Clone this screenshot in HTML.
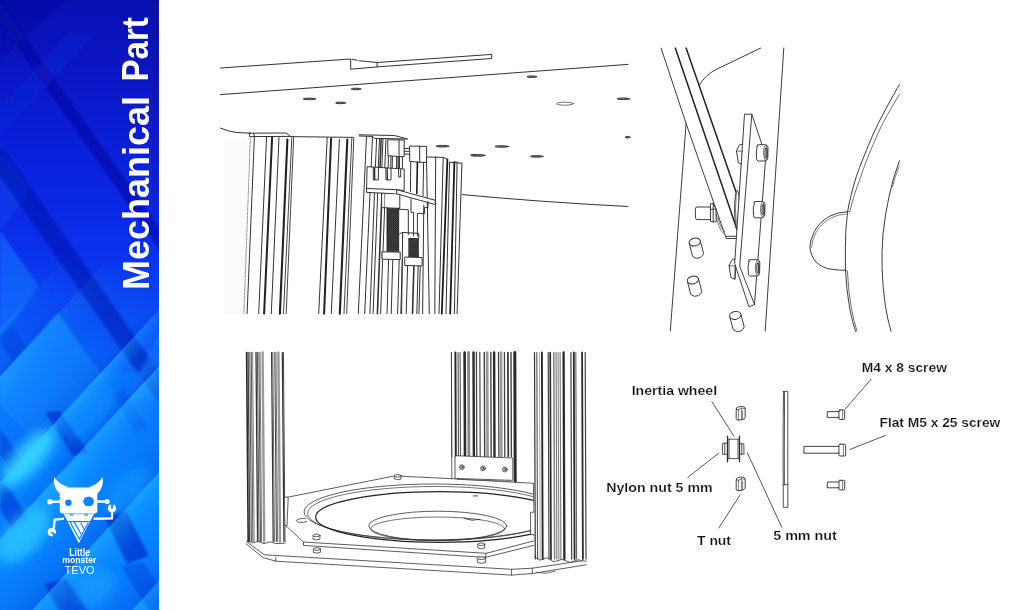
<!DOCTYPE html>
<html><head><meta charset="utf-8">
<style>
html,body{margin:0;padding:0;background:#fff;}
body{width:1024px;height:610px;overflow:hidden;position:relative;font-family:"Liberation Sans",sans-serif;}
svg{position:absolute;left:0;top:0;}
text{font-family:"Liberation Sans",sans-serif;}
</style></head><body>
<svg width="1024" height="610" viewBox="0 0 1024 610">
<defs>
<linearGradient id="bg" x1="0" y1="0" x2="0" y2="1">
<stop offset="0" stop-color="#0810b2"/>
<stop offset="0.12" stop-color="#0a16c4"/>
<stop offset="0.25" stop-color="#0a20da"/>
<stop offset="0.41" stop-color="#0a30ec"/>
<stop offset="0.54" stop-color="#0a50f6"/>
<stop offset="0.65" stop-color="#0870fc"/>
<stop offset="0.8" stop-color="#0684ff"/>
<stop offset="1" stop-color="#087cfc"/>
</linearGradient>
<clipPath id="sb"><rect x="0" y="0" width="159" height="610"/></clipPath>
<filter id="bl" x="-10%" y="-10%" width="120%" height="120%"><feGaussianBlur stdDeviation="1.2"/></filter>
<filter id="bl2" x="-30%" y="-30%" width="160%" height="160%"><feGaussianBlur stdDeviation="6"/></filter>
<pattern id="hat" width="2.2" height="2.2" patternUnits="userSpaceOnUse"><rect width="2.2" height="2.2" fill="#1c1c1c"/><rect x="0.2" y="0.3" width="0.9" height="0.8" fill="#8a8a8a"/><rect x="1.3" y="1.4" width="0.8" height="0.7" fill="#777"/></pattern>
<linearGradient id="edge" x1="0" y1="0" x2="0" y2="1"><stop offset="0" stop-color="#1c1090" stop-opacity="0.45"/><stop offset="0.3" stop-color="#1c1090" stop-opacity="0.2"/><stop offset="0.42" stop-color="#1c1090" stop-opacity="0"/></linearGradient>
<!--GDEFS--><linearGradient id="pg0" gradientUnits="userSpaceOnUse" x1="27.0" y1="300" x2="50.6" y2="321.7"><stop offset="0" stop-color="#2cc4ff" stop-opacity="0.3"/><stop offset="0.45" stop-color="#1090ff" stop-opacity="0.15"/><stop offset="1" stop-color="#0438d8" stop-opacity="0.30"/></linearGradient><linearGradient id="pg1" gradientUnits="userSpaceOnUse" x1="70.5" y1="300" x2="123.3" y2="348.6"><stop offset="0" stop-color="#2cc4ff" stop-opacity="0.4"/><stop offset="0.45" stop-color="#1090ff" stop-opacity="0.15"/><stop offset="1" stop-color="#0438d8" stop-opacity="0.30"/></linearGradient><linearGradient id="pg2" gradientUnits="userSpaceOnUse" x1="168.0" y1="300" x2="196.1" y2="325.8"><stop offset="0" stop-color="#2cc4ff" stop-opacity="0.55"/><stop offset="0.45" stop-color="#1090ff" stop-opacity="0.15"/><stop offset="1" stop-color="#0438d8" stop-opacity="0.30"/></linearGradient><linearGradient id="pg3" gradientUnits="userSpaceOnUse" x1="219.8" y1="300" x2="272.8" y2="348.8"><stop offset="0" stop-color="#2cc4ff" stop-opacity="0.5"/><stop offset="0.45" stop-color="#1090ff" stop-opacity="0.15"/><stop offset="1" stop-color="#0438d8" stop-opacity="0.30"/></linearGradient><linearGradient id="pg4" gradientUnits="userSpaceOnUse" x1="317.7" y1="300" x2="371.8" y2="349.8"><stop offset="0" stop-color="#2cc4ff" stop-opacity="0.45"/><stop offset="0.45" stop-color="#1090ff" stop-opacity="0.15"/><stop offset="1" stop-color="#0438d8" stop-opacity="0.30"/></linearGradient><linearGradient id="pg5" gradientUnits="userSpaceOnUse" x1="417.6" y1="300" x2="473.1" y2="351.0"><stop offset="0" stop-color="#2cc4ff" stop-opacity="0.4"/><stop offset="0.45" stop-color="#1090ff" stop-opacity="0.15"/><stop offset="1" stop-color="#0438d8" stop-opacity="0.30"/></linearGradient><linearGradient id="fadeg" x1="0" y1="0" x2="0" y2="1"><stop offset="0.42" stop-color="#000"/><stop offset="0.62" stop-color="#fff"/></linearGradient><mask id="fadem" maskUnits="userSpaceOnUse" x="0" y="0" width="160" height="610"><rect x="0" y="0" width="160" height="610" fill="url(#fadeg)"/></mask><!--/GDEFS--></defs>
<!-- SIDEBAR -->
<g id="sidebar" clip-path="url(#sb)">
<rect x="0" y="0" width="159" height="610" fill="url(#bg)"/>
<!--BANDS-->
<g filter="url(#bl)">
<polygon points="0.0,0.0 66.0,0.0 0.0,60.0" fill="#060c98" fill-opacity="0.35"/>
<polygon points="-22.3,-10.0 -7.3,-10.0 181.7,260.0 166.7,260.0" fill="#060c9c" fill-opacity="0.5"/>
<polygon points="68.0,33.0 96.0,33.0 -2.4,140.0 -30.4,140.0" fill="#1830e8" fill-opacity="0.22"/>
<polygon points="0.0,231.0 39.0,286.0 0.0,338.0" fill="#1278ff" fill-opacity="0.55"/>
<polygon points="0.0,150.0 30.0,190.0 0.0,231.0" fill="#1050f0" fill-opacity="0.35"/>
<polygon points="-18.5,150.0 4.5,150.0 179.5,400.0 156.5,400.0" fill="#0418b0" fill-opacity="0.62"/>
<polygon points="160.0,330.0 160.0,400.0 121.0,400.0 140.0,372.0" fill="#1080ff" fill-opacity="0.35"/>
<polygon points="57.7,312.3 101.0,374.0 36.7,444.8 0.0,405.0 0.0,376.0" fill="#0e84ff" fill-opacity="0.7"/>
<polygon points="10.5,324.0 26.0,346.0 13.0,362.0 0.0,342.0 0.0,335.0" fill="#0640dc" fill-opacity="0.75"/>
<polygon points="101.0,374.0 140.0,372.0 160.0,352.0 160.0,362.0 63.0,467.0 3.0,482.0 0.0,482.0" fill="#0c80ff" fill-opacity="0.45"/>
<polygon points="45.0,412.0 60.0,411.0 88.0,452.0 72.0,456.0" fill="#0434d4" fill-opacity="0.82"/>
<polygon points="0.0,430.0 5.0,435.0 24.0,464.0 12.0,472.0 0.0,454.0" fill="#0440d8" fill-opacity="0.75"/>
<polygon points="111.0,392.0 124.0,390.0 148.0,428.0 135.0,432.0" fill="#0448dc" fill-opacity="0.35"/>
<polygon points="0.0,482.0 9.0,488.0 29.0,520.0 13.0,530.0 0.0,510.0" fill="#0438d8" fill-opacity="0.8"/>
<polygon points="104.0,516.0 126.0,511.0 149.0,556.0 127.0,564.0" fill="#0430d0" fill-opacity="0.85"/>
<polygon points="44.0,584.0 66.0,579.0 89.0,612.0 60.0,612.0" fill="#0434d4" fill-opacity="0.8"/>
<polygon points="121.0,566.0 143.0,562.0 162.0,590.0 162.0,612.0 150.0,612.0" fill="#0444dc" fill-opacity="0.55"/>
</g>
<g mask="url(#fadem)">
<polygon points="211.0,100.0 254.5,100.0 -279.1,680.0 -322.6,680.0" fill="url(#pg0)"/>
<polygon points="254.5,100.0 352.0,100.0 -181.6,680.0 -279.1,680.0" fill="url(#pg1)"/>
<polygon points="352.0,100.0 403.8,100.0 -129.8,680.0 -181.6,680.0" fill="url(#pg2)"/>
<polygon points="403.8,100.0 501.7,100.0 -31.9,680.0 -129.8,680.0" fill="url(#pg3)"/>
<polygon points="501.7,100.0 601.6,100.0 68.0,680.0 -31.9,680.0" fill="url(#pg4)"/>
<polygon points="601.6,100.0 704.0,100.0 170.4,680.0 68.0,680.0" fill="url(#pg5)"/>
</g>
<g filter="url(#bl2)">
<ellipse cx="28.0" cy="458.0" rx="36.0" ry="14.0" transform="rotate(-47 28.0 458.0)" fill="#38d8ff" fill-opacity="0.85"/>
<ellipse cx="24.0" cy="535.0" rx="34.0" ry="18.0" transform="rotate(-47 24.0 535.0)" fill="#2cc8ff" fill-opacity="0.75"/>
<ellipse cx="88.0" cy="412.0" rx="34.0" ry="16.0" transform="rotate(-47 88.0 412.0)" fill="#1494ff" fill-opacity="0.45"/>
<ellipse cx="128.0" cy="492.0" rx="30.0" ry="15.0" transform="rotate(-47 128.0 492.0)" fill="#16a0ff" fill-opacity="0.5"/>
<ellipse cx="96.0" cy="588.0" rx="22.0" ry="16.0" transform="rotate(-47 96.0 588.0)" fill="#1ea8ff" fill-opacity="0.5"/>
<ellipse cx="60.0" cy="488.0" rx="22.0" ry="12.0" transform="rotate(-47 60.0 488.0)" fill="#1ca4ff" fill-opacity="0.4"/>
</g>
<!--/BANDS-->
<rect x="152" y="0" width="7" height="610" fill="url(#edge)"/>
</g>
<g font-size="37.2" font-weight="bold" fill="#fff"><text transform="translate(148.6,290) rotate(-90)" textLength="194" lengthAdjust="spacingAndGlyphs">Mechanical</text><text transform="translate(148.4,81.4) rotate(-90)" textLength="64.2" lengthAdjust="spacingAndGlyphs">Part</text></g>
<!--LOGO-->
<g id="logo" fill="#fff" stroke="none">
<!-- horns -->
<path d="M60 494Q52.4 487 54.2 476.9Q57.6 483.4 68.4 487.2Q62 488.4 60 494Z"/>
<path d="M97.2 494Q104.4 487 102.5 476.9Q99.2 483.4 89 487.2Q95.4 488.4 97.2 494Z"/>
<!-- head -->
<path d="M66 487.4L91 487.4Q97.3 487.4 97.3 493.8L97.3 510.4Q97.3 513.4 94.3 513.4L62.8 513.4Q59.8 513.4 59.8 510.4L59.8 493.8Q59.8 487.4 66 487.4Z"/>
<circle cx="68.4" cy="502.7" r="3.2" fill="#0a86fb"/>
<ellipse cx="88.6" cy="501.5" rx="5.4" ry="4.8" fill="#0a86fb"/>
<!-- antennas -->
<rect x="51" y="500.5" width="9.5" height="2.5"/><circle cx="49.9" cy="501.8" r="2.7"/>
<rect x="97" y="500.3" width="8.5" height="2.5"/><circle cx="107.1" cy="501.5" r="2.5"/>
<!-- body triangle -->
<path d="M63.4 513.2L94.2 513.2L78.8 543.3Z"/>
<path d="M65 513.4L92.6 513.4L92.6 514.3L65 514.3Z" fill="#0a86fb" fill-opacity="0.55"/>
<path d="M69.6 514.2h3.7v1.4h-3.7zM84.3 514.2h3.7v1.4h-3.7z" fill="#0a86fb"/>
<g fill="none" stroke="#0a86fb" stroke-width="1.15">
<path d="M67.4 521.6L90.4 521.6M70.2 522.4L79.4 539L84.4 529.8M74.4 522.4L81.2 534.2M80.6 523L84.4 529.6L88.2 523"/>
</g>
<!-- arms -->
<path d="M64 517.4L53.6 518.8L52.6 528.6L54.9 528.8L55.7 520.8L64 519.8Z"/>
<circle cx="51.8" cy="532.2" r="4.1"/><path d="M51.8 532.2L57 534.6L54 538Z" fill="#0a86fb"/><circle cx="52.4" cy="532.8" r="1.1" fill="#0a86fb"/>
<path d="M93.6 517.6L110.8 517.2L111 512.2L113.3 512.2L113.1 519.4L93.6 519.9Z"/>
<circle cx="112" cy="508.3" r="4.1"/><path d="M112 508.3L110.2 503L114 503.2Z" fill="#0a86fb"/><circle cx="112" cy="507.4" r="1.1" fill="#0a86fb"/>
<text x="79.6" y="555.6" font-size="10.6" font-weight="bold" text-anchor="middle" textLength="20.8" lengthAdjust="spacingAndGlyphs">Little</text>
<text x="79.3" y="563.4" font-size="9.6" font-weight="bold" text-anchor="middle" textLength="34" lengthAdjust="spacingAndGlyphs">monster</text>
<text x="79.6" y="574.2" font-size="11.6" text-anchor="middle" textLength="30" lengthAdjust="spacingAndGlyphs">TEVO</text>
</g>

<!--/LOGO-->
<rect id="wash" x="224" y="140" width="23" height="174" fill="#fbfbfb"/>
<!--DRAW1-->
<g id="d1" fill="none" stroke="#333" stroke-width="1.0" stroke-linecap="round" stroke-linejoin="round">
<path d="M220.5 68L350.7 59L350.7 69.2L377.1 66.9L491.7 58.5L491.7 54.4L377.1 62.5L377.1 66.9M359 60.7L377.1 62.5M352 59.3L357.2 60.3"/>
<path d="M220.5 94.6L628 64.4"/>
<ellipse cx="309.4" cy="98.9" rx="6.2" ry="0.8" stroke-width="0.9" fill="#888" stroke="#2a2a2a"/>
<ellipse cx="340.6" cy="102.9" rx="4.9" ry="0.8" stroke-width="0.9" fill="#888" stroke="#2a2a2a"/>
<ellipse cx="356.1" cy="89.0" rx="4.9" ry="0.8" stroke-width="0.9" fill="#888" stroke="#2a2a2a"/>
<ellipse cx="531.9" cy="76.7" rx="4.9" ry="0.8" stroke-width="0.9" fill="#888" stroke="#2a2a2a"/>
<ellipse cx="623.5" cy="98.8" rx="6.5" ry="0.8" stroke-width="0.9" fill="#888" stroke="#2a2a2a"/>
<ellipse cx="627.6" cy="137.2" rx="2.4" ry="0.8" stroke-width="0.9" fill="#888" stroke="#2a2a2a"/>
<ellipse cx="442.5" cy="146.2" rx="6.5" ry="0.8" stroke-width="0.9" fill="#888" stroke="#2a2a2a"/>
<ellipse cx="479.0" cy="155.4" rx="6.2" ry="0.8" stroke-width="0.9" fill="#888" stroke="#2a2a2a"/>
<ellipse cx="501.9" cy="146.5" rx="6.9" ry="0.8" stroke-width="0.9" fill="#888" stroke="#2a2a2a"/>
<ellipse cx="536.8" cy="156.4" rx="6.4" ry="0.8" stroke-width="0.9" fill="#888" stroke="#2a2a2a"/>
<ellipse cx="473.3" cy="155.2" rx="2.7" ry="0.8" stroke-width="0.9" fill="#888" stroke="#2a2a2a"/>
<ellipse cx="565" cy="103.7" rx="8.4" ry="1.5" stroke-width="0.7"/>
<path d="M220.5 128.1Q228 131.4 236 132.4L250.4 133.2"/>
<path d="M249.4 133.2L285.6 133Q289 134 289.9 136.2M249.4 133.2L249.4 136.6L289.8 136.4M253 133.3L255 136.4"/>
<path d="M289.8 136.6L353 137.4"/>
<path d="M462.4 194.6Q540 202 628 206.5"/>
<path d="M250.4 136.6L243.9 313.6" stroke-width="1.0" stroke="#999" stroke-dasharray="3 1.2"/>
<path d="M254.4 136.6L247.1 313.6" stroke-width="1.0" stroke="#333" />
<path d="M266.6 136.6L258.7 313.6" stroke-width="1.0" stroke="#333" />
<path d="M272.1 137.6L264.1 313.6" stroke-width="2.0" stroke="#222" />
<path d="M279.0 137.6L271.3 313.6" stroke-width="1.0" stroke="#333" />
<path d="M287.4 139.5L279.9 313.6" stroke-width="2.1" stroke="#222" />
<path d="M291.8 137.6L283.5 313.6" stroke-width="1.0" stroke="#444" />
<path d="M293.7 136.6L286.2 313.6" stroke-width="1.0" stroke="#444" />
<path d="M327.2 137.6L318.7 313.6" stroke-width="1.0" stroke="#333" />
<path d="M331.1 138.5L324.1 313.6" stroke-width="2.0" stroke="#222" />
<path d="M339.4 139.5L331.3 313.6" stroke-width="1.0" stroke="#333" />
<path d="M347.3 139.5L339.8 313.6" stroke-width="2.1" stroke="#222" />
<path d="M351.8 138.5L344.0 313.6" stroke-width="1.0" stroke="#444" />
<path d="M353.8 137.6L346.7 313.6" stroke-width="1.0" stroke="#444" />

<path d="M366.5 136.4L358.3 313.6" stroke-width="1.0" stroke="#333" />
<path d="M372.5 136.5L364.7 313.6" stroke-width="1.0" stroke="#333" />
<path d="M374.5 193.0L369.9 313.6" stroke-width="1.0" stroke="#333" />
<path d="M377.7 193.0L373.1 313.6" stroke-width="1.0" stroke="#333" />
<path d="M382.0 193.0L377.4 313.6" stroke-width="1.6" stroke="#333" />
<path d="M385.2 193.0L380.6 313.6" stroke-width="1.0" stroke="#333" />
<path d="M376.6 138.6L375.4 168.0" stroke-width="1.0" stroke="#333" />
<path d="M379.5 138.6L378.3 168.0" stroke-width="1.0" stroke="#333" />
<path d="M381.2 138.6L380.0 168.0" stroke-width="1.5" stroke="#333" />
<path d="M383.0 138.6L381.8 168.0" stroke-width="1.0" stroke="#333" />
<path d="M386.0 138.6L384.8 168.0" stroke-width="1.0" stroke="#333" />
<path d="M426.5 157.4L429.3 313.6" stroke-width="1.0" stroke="#333" />
<path d="M435.7 157.0L434.8 313.6" stroke-width="1.0" stroke="#333" />
<path d="M443.2 157.6L439.0 313.6" stroke-width="1.0" stroke="#333" />
<path d="M447.4 159.4L441.8 313.6" stroke-width="1.8" stroke="#1a1a1a" />
<path d="M449.6 162.4L446.0 313.6" stroke-width="1.0" stroke="#333" />
<path d="M454.4 161.8L450.2 313.6" stroke-width="1.8" stroke="#1a1a1a" />
<path d="M457.1 161.8L454.4 313.6" stroke-width="1.0" stroke="#333" />
<path d="M461.9 163.4L457.1 313.6" stroke-width="1.0" stroke="#333" />
<path d="M426.6 157L443.2 157.4L447.4 159.4M449.6 162.2L461.9 163.2"/>
<path d="M388.6 259.3L387.0 313.6" stroke-width="1.0" stroke="#333" />
<path d="M392.8 259.3L391.2 313.6" stroke-width="1.0" stroke="#333" />
<path d="M399.2 259.3L397.6 313.6" stroke-width="1.0" stroke="#333" />
<path d="M402.4 259.3L400.8 313.6" stroke-width="1.0" stroke="#333" />
<path d="M407.6 265.7L406.2 313.6" stroke-width="1.0" stroke="#333" />
<path d="M413.9 265.7L412.5 313.6" stroke-width="1.6" stroke="#333" />
<path d="M418.2 265.7L416.8 313.6" stroke-width="1.0" stroke="#333" />
<path d="M420.3 265.7L418.9 313.6" stroke-width="1.0" stroke="#333" />
<path d="M402.6 235.0L401.6 313.6" stroke-width="1.0" stroke="#333" />
<path d="M423.8 205.0L422.6 313.6" stroke-width="1.0" stroke="#333" />
<path d="M359.1 134.8L394.4 135.5L407.6 139L388 138.6L374.6 138.5L372.8 136.4L359.1 136" fill="#fff"/>
<path d="M388.4 156.4L388.2 167.4M391 156.4L390.8 167.6M392.4 156.6L392.2 168M396.6 156.8L396.6 168.4M398 157L398 168.4M402.4 157L402.4 169" />
<path d="M399.2 157L399.2 169" stroke-width="1.4" stroke="#222"/>
<path d="M388.1 139.8L404.2 140L404.2 156.6L399 156.6L388.3 155.6Z" fill="#fff"/><path d="M399 139.9L399 156.6"/>
<path d="M404.2 148.4L410 148.6M404.2 151.2L410 151.4M404.2 154L410 154.2"/>
<path d="M410 146.1L426.6 146.4L426.6 162.3L419.7 162.3L410.1 161.4Z" fill="#fff"/><path d="M419.7 146.2L419.7 162.3"/>
<path d="M417.4 162.3L416.8 193.6" stroke-width="1.6" stroke="#1a1a1a"/><path d="M410.8 161.6L410.4 191.6M423.6 162.4L423 196"/>
<path d="M367.5 166.7L404.2 169L404.2 190.6L396.7 189.7L396.7 193.8L366.9 192.4Z" fill="#fff"/>
<path d="M366.9 188.5L396.7 189.7L396.7 193.8M396.7 189.7L435.3 200.3L435.3 204.6L396.7 193.8" fill="#fff"/>
<path d="M373.2 167.4L373.4 179.9L378.4 179.9L378.4 167.6M385.8 168L386 179.9L391 179.9L391 168.4M398.5 169L398.8 177L400.7 177L400.7 169.2"/>
<path d="M374.6 168L374.8 179.6M387.2 168.4L387.4 179.6" stroke-width="1.2" stroke="#222"/>
<path d="M381.6 194.2L381.6 207.6L399.8 208.4L399.8 195.6" fill="#fff"/><path d="M384.6 194.6L384.6 207.7" stroke-width="0.6"/>
<rect x="387" y="208.1" width="11.7" height="43.7" fill="url(#hat)" stroke="none"/>
<path d="M387 208.1L387 251.8M398.7 208.1L398.7 251.8" stroke-width="0.8" stroke="#111"/>
<path d="M382.3 251.8L400.2 252.2L400.2 259.6L382.3 259.2Z" fill="#fff"/>
<path d="M398.7 209.2L408.3 209.8L408.3 234.6M398.7 234.4L402.6 232.4L418.8 233.4L418.8 238M402.6 232.4L402.6 237.6" />
<rect x="408.3" y="238" width="10.6" height="19.2" fill="url(#hat)" stroke="none"/>
<path d="M405.1 257.1L422.1 257.5L422.1 265.9L405.1 265.5Z" fill="#fff"/>
<path d="M411 199L411 212.4L413.6 212.4L413.6 236M417.4 236L417.4 213.4L424.6 213.4L424.6 207.4L428 207.6L428 201.6"/>
</g>
<!--/DRAW1-->
<!--DRAW2-->
<g id="d2" fill="none" stroke="#333" stroke-width="0.95" stroke-linecap="round" stroke-linejoin="round">
<!-- column edges -->
<path d="M783.8 48L765.2 331M686.1 123.6L670.3 331"/>
<!-- thin line parallel to rod -->
<path d="M661.1 48.1L686.1 123.6L726.3 238.5L736.8 238.5M725.6 236.3L737 236.3"/>
<!-- curve top -->
<path d="M760.6 48.1L716 69.5Q704 76 699.2 85.5"/>
<!-- rod -->
<path d="M675.3 48.1L737 229.4M686.1 48.1L736 192" stroke-width="1.5" stroke="#222"/>
<!-- washer -->
<ellipse cx="737.2" cy="209.8" rx="2.6" ry="19.4" fill="#fff"/>
<path d="M736.4 192Q734.4 210 736.6 228" stroke-width="0.6"/>
<!-- left bolt + nut -->
<path d="M710.8 207L697 207Q695.3 207.2 695.3 209L695.5 217.8Q695.6 219.5 697.2 219.6L710.8 219.6" fill="#fff"/>
<path d="M710.8 203.8L713.2 203.5L716 209L716.2 221.6L713 222L710.9 221.4ZM713.2 203.5L713.2 222M710.9 209.4L716 209" fill="#fff"/>
<path d="M716.2 214Q717.5 228 723.5 233.5M718 217Q719 226 724.6 231.6" stroke-width="0.6"/>
<!-- nuts on plate left -->
<g id="pnut"><path d="M743.4 143.9L739.7 144.8L736.4 150.5L738.4 162.8L742.1 164.4Z" fill="#fff"/><path d="M736.8 150.9L743 151.3M742.4 151.3L742.1 164.4" stroke-width="0.7"/></g>
<use href="#pnut" transform="translate(-7.4,114.8)"/>
<!-- plate -->
<path d="M744.9 114.2L751.8 114.2L765.8 156L754.5 304.5L749 306.9L734.8 263.8Z" fill="#fff"/>
<path d="M751.8 114.2L739.7 266.3L754.5 304.5"/>
<!-- bolts on plate (socket heads) -->
<g id="bolt">
<path d="M757.2 146.2Q756.2 145.2 757.8 144.8L765.4 144.6Q767.6 145 768 147.2L767.8 158.2Q767.2 160.6 765.4 160.9L758.4 161.1Q756.4 160.6 756.6 158.8Q755.6 152 757.2 146.2Z" fill="#fff"/>
<ellipse cx="765.5" cy="152.8" rx="1.9" ry="7.4" stroke-width="0.7"/>
<ellipse cx="765.9" cy="152.9" rx="0.9" ry="4.8" stroke-width="1.1" stroke="#3a3a3a"/>
</g>
<use href="#bolt" transform="translate(-3,56.8) scale(1.0)"/>
<use href="#bolt" transform="translate(-8.2,115)"/>
<!-- cylinders -->
<g id="cyl"><path d="M689.2 243.4L692.6 256.4Q696 259.6 700.4 257.6Q703.2 255.8 703.6 253.4L700.2 240.6" fill="#fff"/><ellipse cx="694.7" cy="242" rx="5.7" ry="3.9" transform="rotate(-12 694.7 242)" fill="#fff"/></g>
<use href="#cyl" transform="translate(-1.8,38)"/>
<use href="#cyl" transform="translate(40.6,73.4)"/>
<!-- right curved body -->
<path d="M847.6 211.7Q838 212 829.9 216.1Q819 222 814.4 231.6Q810 240 809.9 247.1Q810.6 256 816.6 262.6Q823 268.4 832 269.3Q840 270.6 845.4 270.2" fill="#fff"/>
<path d="M899.4 84.6Q884 111 874.1 132Q862 160 856.4 176.3Q850 197 847.6 211.7Q845.2 230 845.4 247.1L845.4 269.3Q846.4 290 849.8 309.1Q852.4 322 855.5 331.3"/>
<path d="M899.4 94.4Q886 116 878.6 132Q866 160 860.9 176.3Q853 197 849.8 211.7L847.6 211.7M845.6 270.2L847.4 271Q848.2 291 851.6 309.1Q853.6 320 857 331.3" stroke-width="0.7"/>
<path d="M846 214Q838 214.4 831 218Q820.6 223.6 816 232.6Q811.8 240 811.6 247.5" stroke-width="0.6"/>
<path d="M899.4 160.8Q893 178 889.6 194Q885 214 883 233.9Q881.6 252 882.1 269.3Q882.8 288 885.2 304.7Q887.6 320 891 331.3"/>
<path d="M899.4 166Q895 176 892.4 187" stroke-width="0.6"/>
</g>

<!--/DRAW2-->
<!--DRAW3-->
<g id="d3" fill="none" stroke="#333" stroke-width="0.8" stroke-linecap="round" stroke-linejoin="round">
<path d="M246.6 541.6L264.1 554.8L511.6 569.3L532.3 568.2L586.2 560.2M246 543.7L263 557.6L275.8 561.2L511.6 575.1L532.3 573.5L586.2 564.8M275.8 557.4L275.8 561.2M511.6 569.3L511.6 575.1M532.3 568.2L532.3 573.5"/>
<path d="M536.9 572.6Q546 574.6 555.3 571.2" stroke-width="0.7"/>
<path d="M287.1 497.3L394.7 475.9L452 478.7L533.4 483.3L534.6 540.7L486.4 553.3L303.5 542L285.8 525.6Z" fill="#fff"/>
<path d="M303.5 542L303.5 545.4L485.2 557.4L486.4 553.3M485.2 557.4L534.6 545.2"/>
<clipPath id="pc"><path d="M287.1 497.3L394.7 475.9L452 478.7L533.4 483.3L534.6 540.7L486.4 553.3L303.5 542L285.8 525.6Z"/></clipPath>
<g clip-path="url(#pc)">
<ellipse cx="434" cy="511.9" rx="129.9" ry="27.9" />
<ellipse cx="434.5" cy="513.4" rx="127" ry="26.9" stroke-width="0.7"/>
<ellipse cx="439.7" cy="517" rx="124.1" ry="25.4" stroke-width="1.2" stroke="#222"/>
</g>
<ellipse cx="437.8" cy="525.9" rx="69" ry="14.7"/>
<ellipse cx="437.8" cy="528.8" rx="67" ry="11.8" stroke-width="0.7"/>
<path d="M305.4 518.6Q299 518 296.4 520.4Q297 522.6 303 522.4L306.6 521.6"/>
<path d="M473.4 495.9L477.6 495.9M464 518.4Q472 521.6 480 519.4" stroke-width="0.9"/>
<path d="M313.1 535.4L313.1 539.2Q316.5 540.6 319.9 539.2L319.9 535.4" fill="#fff"/>
<ellipse cx="316.5" cy="535.4" rx="3.4" ry="1.3" fill="#fff"/>
<path d="M313.4 549.0L313.4 552.4Q316.9 553.8 320.4 552.4L320.4 549.0" fill="#fff"/>
<ellipse cx="316.9" cy="549.0" rx="3.5" ry="1.3" fill="#fff"/>
<path d="M394.6 475.8L394.6 479.0Q397.8 480.4 401.0 479.0L401.0 475.8" fill="#fff"/>
<ellipse cx="397.8" cy="475.8" rx="3.2" ry="1.3" fill="#fff"/>
<path d="M477.9 544.2L477.9 548.0Q481.3 549.4 484.7 548.0L484.7 544.2" fill="#fff"/>
<ellipse cx="481.3" cy="544.2" rx="3.4" ry="1.3" fill="#fff"/>
<path d="M477.4 558.2L477.4 562.6Q481.4 564.0 485.4 562.6L485.4 558.2" fill="#fff"/>
<ellipse cx="481.4" cy="558.2" rx="4.0" ry="1.3" fill="#fff"/>
<path d="M246.2 352.5L246.2 541L252 543.4L258 541.6L264 543.8L270 542L276 543.8L285.4 543.2L285.4 352.5Z" fill="#fff" stroke="none"/>
<path d="M246.6 352.5L248.2 541.5" stroke-width="1.6" stroke="#2a2a2a" />
<path d="M248.1 352.5L249.7 541.5" stroke-width="1.3" stroke="#444" />
<path d="M249.8 352.5L251.4 541.5" stroke-width="1.0" stroke="#555" />
<path d="M251.3 352.5L252.9 541.5" stroke-width="1.0" stroke="#555" />
<path d="M252.6 352.5L254.2 541.5" stroke-width="0.9" stroke="#777" />
<path d="M256.0 352.5L257.6 541.5" stroke-width="1.3" stroke="#333" />
<path d="M257.4 352.5L259.0 541.5" stroke-width="1.0" stroke="#555" />
<path d="M258.9 352.5L260.5 541.5" stroke-width="1.0" stroke="#555" />
<path d="M260.0 352.5L261.6 541.5" stroke-width="0.9" stroke="#666" />
<path d="M262.6 352.5L264.2 541.5" stroke-width="2.4" stroke="#999" />
<path d="M271.6 352.5L273.2 541.5" stroke-width="1.2" stroke="#333" />
<path d="M272.8 352.5L274.4 541.5" stroke-width="0.9" stroke="#555" />
<path d="M274.8 352.5L276.4 541.5" stroke-width="1.0" stroke="#444" />
<path d="M276.0 352.5L277.6 541.5" stroke-width="0.9" stroke="#666" />
<path d="M278.4 352.5L280.0 541.5" stroke-width="2.4" stroke="#999" />
<path d="M282.3 352.5L283.9 541.5" stroke-width="1.2" stroke="#333" />
<path d="M283.4 352.5L285.0 541.5" stroke-width="1.0" stroke="#444" />
<path d="M247.4 540.6L252 543L258 541.4L264 543.6L270 541.8L276 543.6L285.2 543.2" stroke-width="0.8"/>
<path d="M285 497L288.2 497.4L287 525.6L285.4 525.6" stroke-width="0.8" fill="#fff"/>
<path d="M451.4 352.5L451.8 456.5" stroke-width="1.0" stroke="#444" />
<path d="M455.4 352.5L455.8 456.5" stroke-width="2.0" stroke="#2a2a2a" />
<path d="M458.1 352.5L458.5 456.5" stroke-width="1.1" stroke="#555" />
<path d="M460.1 352.5L460.5 456.5" stroke-width="1.1" stroke="#555" />
<path d="M464.6 352.5L465.0 456.5" stroke-width="2.6" stroke="#2a2a2a" />
<path d="M468.5 352.5L468.9 456.5" stroke-width="2.8" stroke="#888" />
<path d="M473.5 352.5L473.9 456.5" stroke-width="2.4" stroke="#2a2a2a" />
<path d="M476.4 352.5L476.8 456.5" stroke-width="1.3" stroke="#444" />
<path d="M479.8 352.5L480.2 456.5" stroke-width="1.3" stroke="#555" />
<path d="M484.3 352.5L484.7 456.5" stroke-width="1.5" stroke="#444" />
<path d="M487.2 352.5L487.6 456.5" stroke-width="2.6" stroke="#999" />
<path d="M490.8 352.5L491.2 456.5" stroke-width="1.4" stroke="#444" />
<path d="M494.1 352.5L494.5 456.5" stroke-width="2.4" stroke="#2a2a2a" />
<path d="M498.5 352.5L498.9 456.5" stroke-width="1.3" stroke="#444" />
<path d="M501.0 352.5L501.4 456.5" stroke-width="2.6" stroke="#999" />
<path d="M504.4 352.5L504.8 456.5" stroke-width="1.3" stroke="#444" />
<path d="M507.9 352.5L508.3 456.5" stroke-width="1.7" stroke="#333" />
<path d="M511.0 352.5L511.4 456.5" stroke-width="1.4" stroke="#444" />
<path d="M514.8 352.5L515.2 481.0" stroke-width="3.0" stroke="#2a2a2a" />
<path d="M451.4 352.5L451.8 478.6" stroke-width="0.8" stroke="#444" />
<path d="M455.4 455.7L512.8 458L512.8 480.4L455.4 478.4Z" fill="#fff"/>
<circle cx="461.8" cy="467.2" r="2.4"/><circle cx="461.8" cy="467.2" r="1.1" stroke-width="0.9"/>
<circle cx="483.0" cy="468.4" r="2.4"/><circle cx="483.0" cy="468.4" r="1.1" stroke-width="0.9"/>
<circle cx="504.8" cy="469.5" r="2.4"/><circle cx="504.8" cy="469.5" r="1.1" stroke-width="0.9"/>
<path d="M458 479.4L510 481.4" stroke-width="1" stroke-dasharray="2 1.4" stroke="#555"/>
<path d="M534.2 352.5L534.2 557L540 560.4L547 558L554 562L562 559.6L570 562.6L578 560L586.4 561.6L586 352.5Z" fill="#fff" stroke="none"/>
<path d="M534.5 352.5L535.3 559.0" stroke-width="1.2" stroke="#333" />
<path d="M536.8 352.5L537.6 559.0" stroke-width="1.1" stroke="#555" />
<path d="M539.4 352.5L540.2 559.0" stroke-width="1.0" stroke="#aaa" />
<path d="M541.9 352.5L542.7 559.0" stroke-width="1.9" stroke="#2a2a2a" />
<path d="M548.2 352.5L549.0 559.0" stroke-width="1.2" stroke="#444" />
<path d="M550.2 352.5L551.0 559.0" stroke-width="1.7" stroke="#2a2a2a" />
<path d="M553.8 352.5L554.6 559.0" stroke-width="1.6" stroke="#888" />
<path d="M556.1 352.5L556.9 559.0" stroke-width="1.1" stroke="#777" />
<path d="M558.1 352.5L558.9 559.0" stroke-width="1.1" stroke="#888" />
<path d="M560.1 352.5L560.9 559.0" stroke-width="1.1" stroke="#777" />
<path d="M563.6 352.5L564.4 559.0" stroke-width="2.3" stroke="#2a2a2a" />
<path d="M570.9 352.5L571.7 559.0" stroke-width="1.2" stroke="#444" />
<path d="M573.8 352.5L574.6 559.0" stroke-width="1.8" stroke="#2a2a2a" />
<path d="M575.8 352.5L576.6 559.0" stroke-width="1.1" stroke="#666" />
<path d="M582.1 352.5L582.9 559.0" stroke-width="1.8" stroke="#2a2a2a" />
<path d="M585.2 352.5L586.0 559.0" stroke-width="1.2" stroke="#444" />
<path d="M534.4 556.6L540 560.2L547 557.8L554 561.8L562 559.4L570 562.4L578 559.8L586.2 561.4" stroke-width="0.8"/>
<path d="M534.2 512L530.6 512.4L530.6 534.6L534.2 535" fill="#fff"/>
</g>
<!--/DRAW3-->
<!--DRAW4-->
<g id="d4" fill="none" stroke="#2a2a2a" stroke-width="0.9" stroke-linecap="round" stroke-linejoin="round">
<!-- leader lines -->
<path d="M711.9 401.7L733.9 436.1M687.8 477.4L718.6 453.2M718.8 528L740 495M747.3 452.8L781.8 527.3M871 379.4L845.2 409M885.5 435.4L849.8 449.5" stroke-width="0.8"/>
<!-- T nuts -->
<g id="tnut">
<path d="M736.2 409.2Q736 407.2 738.5 406.8L742.6 406.5Q745 406.6 745.2 408.8L745.2 417.6Q744.6 419.2 742.2 419.6L738.2 420.2Q736.4 420.2 736.2 418.6Z"/>
<path d="M738.6 409.6L738.6 420M741.4 408.2L741.4 419.6M738.6 409.6L741.4 408.2L745 408.6M736.3 409.4L738.6 409.6M742.6 411L742.6 418.8" stroke-width="0.6"/>
</g>
<use href="#tnut" transform="translate(0,70.6)"/>
<!-- wheel -->
<path d="M727.5 436.1L727.5 461.7M739.5 436.1L739.5 461.7" stroke-width="1.3"/>
<path d="M728.6 439.2L738.4 439.2M728.6 458.6L738.4 458.6M729 439.2L729 458.6M738 439.2L738 458.6" stroke-width="0.8"/>
<path d="M727.5 443.2L722.6 443.2L722.4 454.2L727.5 454.2M724.8 443.2L724.8 454.2M739.5 443.8L743.8 443.8L744 454.2L739.5 454.2M741.8 443.8L741.8 454.2" stroke-width="0.8"/>
<!-- plate -->
<path d="M783.6 391.4L787.8 391.4L787.8 507.4L783.3 507.4L783.1 450Q783 420 783.6 391.4ZM784.6 392L784.3 450L784.4 484.6M783.2 484.7L787.8 484.7" stroke-width="0.8"/>
<!-- screws -->
<g id="m4"><path d="M838.9 411.6L827.4 411.6L827.2 417.4L838.9 417.4"/><rect x="838.9" y="409.9" width="5.8" height="9.6" rx="1"/><path d="M842.6 410.2L842.6 419.2" stroke-width="0.6"/></g>
<use href="#m4" transform="translate(0,70.4)"/>
<path d="M838.9 446.4L804 446.4L803.8 453.2L838.9 453.2"/><rect x="838.9" y="444.2" width="6.8" height="11.8" rx="1.2"/><path d="M843.4 444.6L843.4 455.6" stroke-width="0.6"/>
</g>
<g id="labels" font-weight="bold" font-size="12.3" fill="#111" stroke="#fff" stroke-width="0.18" paint-order="fill stroke">
<text x="861.7" y="371.8" textLength="85.2" lengthAdjust="spacingAndGlyphs">M4 x 8 screw</text>
<text x="631.7" y="394.9" textLength="85.4" lengthAdjust="spacingAndGlyphs">Inertia wheel</text>
<text x="879.5" y="426.9" textLength="120.8" lengthAdjust="spacingAndGlyphs">Flat M5 x 25 screw</text>
<text x="606.2" y="491.9" textLength="106.5" lengthAdjust="spacingAndGlyphs">Nylon nut 5 mm</text>
<text x="697.1" y="545.2" textLength="33.8" lengthAdjust="spacingAndGlyphs">T nut</text>
<text x="773.2" y="540.1" textLength="63.7" lengthAdjust="spacingAndGlyphs">5 mm nut</text>
</g>

<!--/DRAW4-->
</svg>
</body></html>
